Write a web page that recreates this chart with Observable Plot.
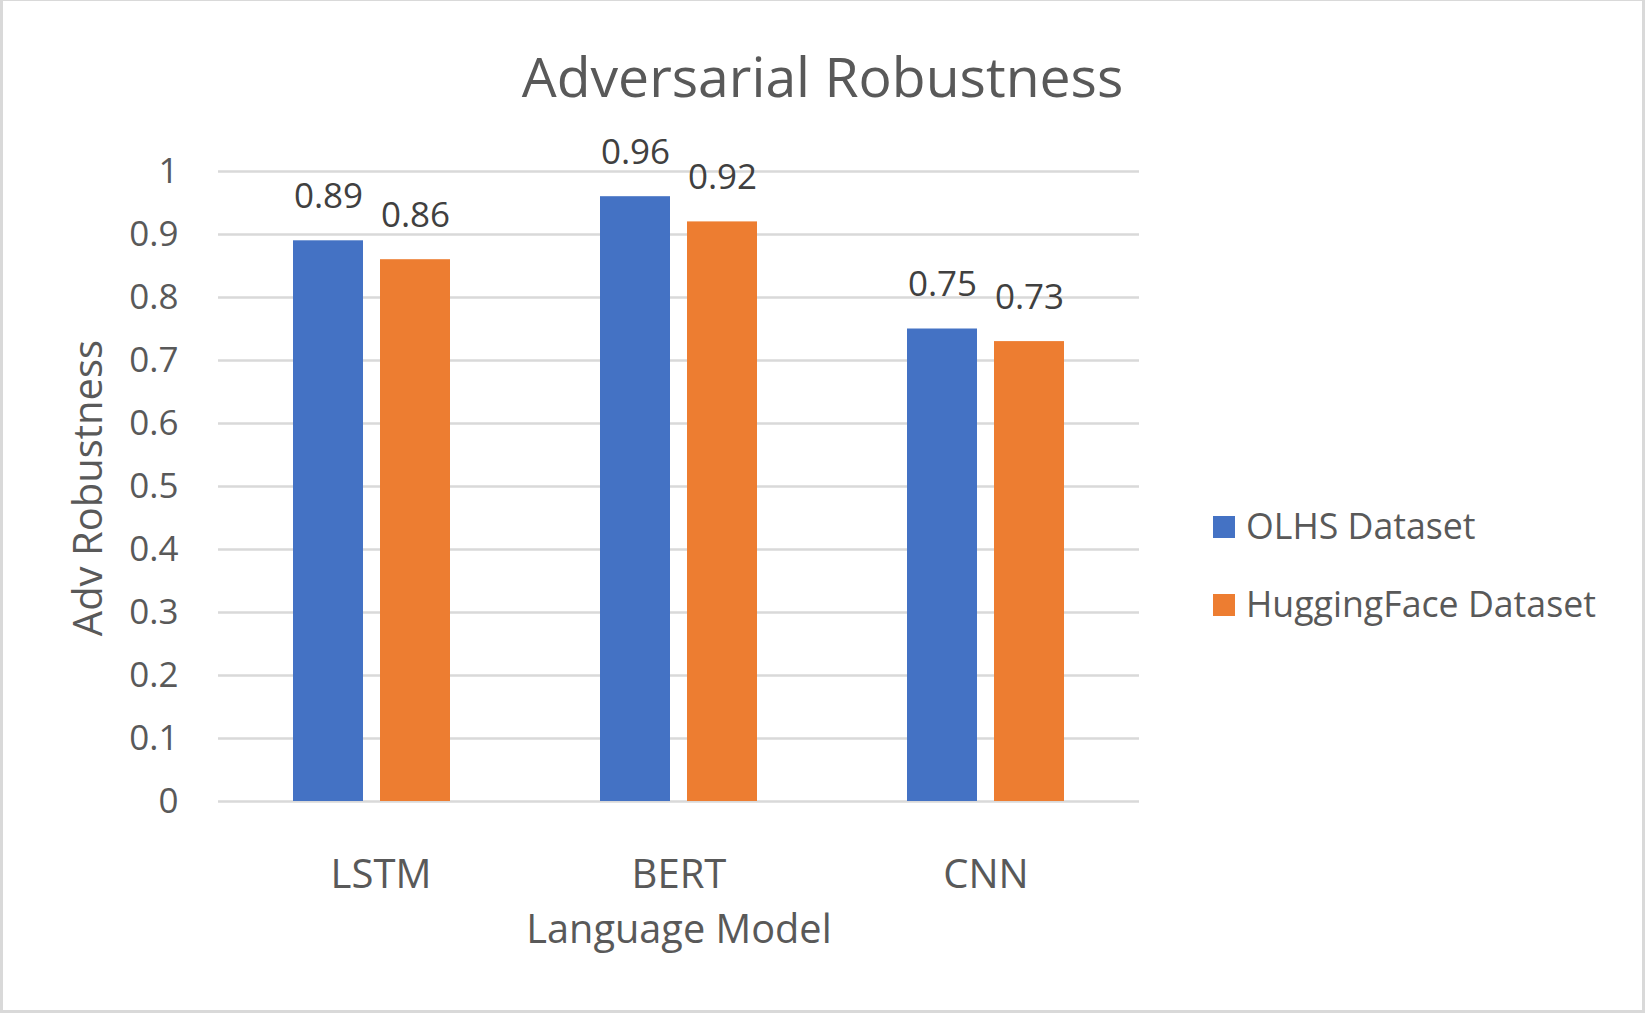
<!DOCTYPE html>
<html>
<head>
<meta charset="utf-8">
<script src="https://cdn.jsdelivr.net/npm/d3@7"></script>
<script src="https://cdn.jsdelivr.net/npm/@observablehq/plot@0.6"></script>
<style>
  html, body { margin: 0; padding: 0; background: #ffffff; }
  #frame { position: relative; width: 1645px; height: 1013px; overflow: hidden; font-family: "Open Sans", sans-serif; color: #595959; }
  #border { position: absolute; left: 0; top: 0; width: 1645px; height: 1013px; box-sizing: border-box;
            border: 3px solid #d9d9d9; border-top-width: 1px; pointer-events: none; }
  .abs { position: absolute; white-space: nowrap; line-height: 1; }
  #title { left: 0; width: 1645px; text-align: center; top: 48px; font-size: 55.3px; }
  #ytitle { left: 87px; top: 488px; font-size: 40px; transform: translate(-50%, -50%) rotate(-90deg); }
  #xtitle { left: 679px; top: 909px; font-size: 39.7px; transform: translateX(-50%); }
  .legtext { font-size: 35.7px; }
  .sw { position: absolute; width: 22px; height: 22px; }
  #chart { position: absolute; left: 0; top: 0; }
</style>
</head>
<body>
<div id="frame">
  <div id="chart"></div>
  <div id="title" class="abs">Adversarial Robustness</div>
  <div id="ytitle" class="abs">Adv Robustness</div>
  <div id="xtitle" class="abs">Language Model</div>
  <div id="legend"></div>
  <div id="border"></div>
</div>
<script>
// ---- data ----
const models = ["LSTM", "BERT", "CNN"];
const datasets = ["OLHS Dataset", "HuggingFace Dataset"];
const olhsValues = [0.89, 0.96, 0.75];
const huggingValues = [0.86, 0.92, 0.73];
const yTicks = [0, 0.1, 0.2, 0.3, 0.4, 0.5, 0.6, 0.7, 0.8, 0.9, 1];
const colors = ["#4472C4", "#ED7D31"];

const rows = models.flatMap((m, i) => [
  {model: m, dataset: datasets[0], value: olhsValues[i]},
  {model: m, dataset: datasets[1], value: huggingValues[i]}
]);

const catLabel = {fx: d => d, text: d => d, frameAnchor: "bottom", lineAnchor: "top",
  dy: 58, fontSize: 40, fill: "#595959"};

const chart = Plot.plot({
  width: 1645,
  height: 1013,
  marginLeft: 218,
  marginRight: 506,
  marginTop: 171,
  marginBottom: 212,
  style: {fontFamily: "Open Sans", background: "transparent", overflow: "visible"},
  fx: {domain: models, padding: 0, label: null, axis: null},
  x: {domain: datasets, paddingInner: 0.2, paddingOuter: 0.86, axis: null},
  y: {domain: [0, 1], axis: null},
  color: {domain: datasets, range: colors},
  marks: [
    Plot.gridY(yTicks, {stroke: "#d9d9d9", strokeOpacity: 1, strokeWidth: 2.5}),
    Plot.barY(rows, {fx: "model", x: "dataset", y: "value", fill: "dataset"}),
    Plot.text(rows, {fx: "model", x: "dataset", y: "value", text: d => d.value.toFixed(2),
      lineAnchor: "bottom", dy: -33, fontSize: 35, fill: "#404040"}),
    Plot.axisY(yTicks, {tickSize: 0, tickPadding: 40, fontSize: 35, fill: "#595959",
      tickFormat: d => String(+d.toFixed(1)), label: null}),
    Plot.text([models[0]], {...catLabel, dx: 9}),
    Plot.text(models.slice(1), catLabel)
  ]
});
document.getElementById("chart").appendChild(chart);

// ---- legend ----
const legend = document.getElementById("legend");
datasets.forEach((name, i) => {
  const sw = document.createElement("div");
  sw.className = "sw";
  sw.style.left = "1213px";
  sw.style.top = (516 + i * 78) + "px";
  sw.style.background = colors[i];
  legend.appendChild(sw);
  const t = document.createElement("div");
  t.className = "abs legtext";
  t.style.left = "1246px";
  t.style.top = (508 + i * 78) + "px";
  t.textContent = name;
  legend.appendChild(t);
});
</script>
</body>
</html>
